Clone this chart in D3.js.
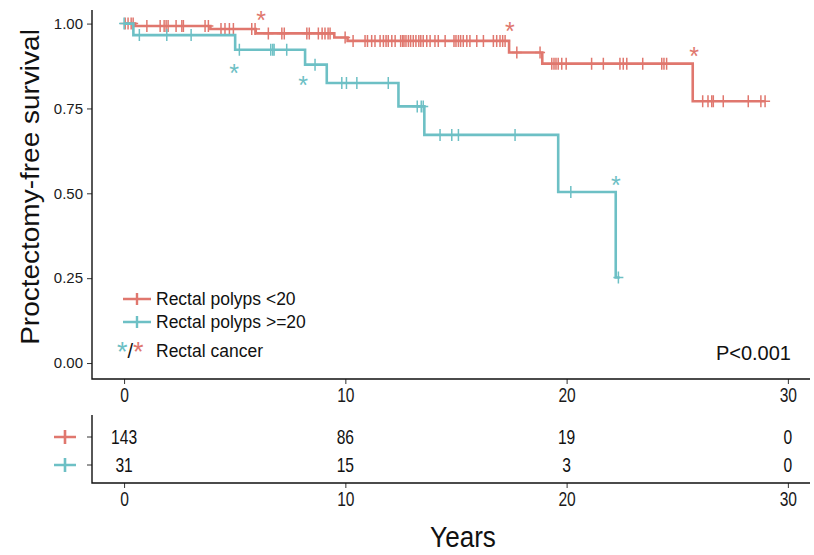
<!DOCTYPE html>
<html>
<head>
<meta charset="utf-8">
<title>Proctectomy-free survival</title>
<script src="https://d3js.org/d3.v7.min.js"></script>
<style>
  body { margin: 0; background: #fff; }
  text { font-family: "Liberation Sans", Arial, sans-serif; }
</style>
</head>
<body>
<script>
// step curves: time (years) and survival after the step
var redStepT  = [0, 0.5, 3.9, 5.95, 9.5, 10.1, 17.4, 18.9, 25.7];
var redStepS  = [1, 0.993, 0.984, 0.971, 0.959, 0.949, 0.915, 0.882, 0.771];
var redEnd = 28.97;
var tealStepT = [0, 0.42, 5.02, 8.18, 9.16, 12.4, 13.57, 19.62, 22.22];
var tealStepS = [1, 0.966, 0.923, 0.879, 0.825, 0.756, 0.672, 0.504, 0.252];
var tealEnd = 22.4;

// censored times
var redCens = [0.05, 0.18, 0.32, 0.41, 1.03, 1.63, 1.81, 1.9, 1.99, 2.35, 2.61, 2.68, 3.66, 3.81,
  4.38, 4.56, 4.76, 4.94, 5.77, 5.92, 6.52, 7.13, 7.24, 8.26, 8.37, 8.78, 8.95, 9.08, 9.22, 9.31,
  9.99, 10.35, 10.89, 11.0, 11.19, 11.34, 11.57, 11.72, 11.84, 11.94, 12.1, 12.25, 12.5, 12.59,
  12.65, 12.74, 12.85, 12.95, 13.07, 13.19, 13.32, 13.41, 13.52, 13.68, 13.83, 14.05, 14.2, 14.51,
  14.91, 15.0, 15.11, 15.21, 15.33, 15.49, 15.63, 15.94, 16.24, 16.69, 16.84, 16.99, 17.11, 17.22,
  17.75, 18.8, 19.33, 19.43, 19.52, 19.62, 19.78, 19.98, 21.13, 21.66, 22.41, 22.56, 22.72, 23.44,
  24.3, 24.4, 24.52, 26.15, 26.39, 26.56, 26.63, 27.08, 28.21, 28.78, 28.97];
var tealCens = [0, 0.69, 1.93, 3.03, 5.21, 6.63, 6.72, 6.78, 7.35, 8.63, 9.84, 10.05, 10.52, 11.94,
  13.25, 13.43, 13.52, 14.28, 14.81, 15.11, 17.67, 20.19, 22.34];

// rectal cancer marks (time, label height)
var redCancerT = [6.19, 17.44, 25.76];
var redCancerY = [1.024, 0.994, 0.92];
var tealCancerT = [4.97, 8.09, 22.23];
var tealCancerY = [0.870, 0.835, 0.539];

var groups = ["Rectal polyps <20", "Rectal polyps >=20"];
var riskTimes = [0, 10, 20, 30];
var riskRed = [143, 86, 19, 0];
var riskTeal = [31, 15, 3, 0];
var xTicks = [0, 10, 20, 30];
var yTicks = [0, 0.25, 0.5, 0.75, 1];

var red = "#E0776E", teal = "#6DC0C5";

var W = 814, H = 555;
var svg = d3.select("body").append("svg").attr("width", W).attr("height", H);

var x = d3.scaleLinear().domain([-1.45, 31]).range([92, 810]);
var y = d3.scaleLinear().domain([-0.047, 1.04]).range([379, 10]);

// axes of main panel
var yAxis = svg.append("g").attr("transform", "translate(92,0)")
  .call(d3.axisLeft(y).tickValues(yTicks).tickFormat(d3.format(".2f")).tickSize(5).tickPadding(4));
yAxis.attr("font-size", 15).attr("font-family", "Liberation Sans");
yAxis.select(".domain").remove();
yAxis.selectAll("text").attr("fill", "#1a1a1a");
yAxis.selectAll("line").attr("stroke", "#333");

function bottomAxis(ty) {
  var g = svg.append("g").attr("transform", "translate(0," + ty + ")")
    .call(d3.axisBottom(x).tickValues(xTicks).tickFormat(d3.format("d")).tickSize(5).tickPadding(4));
  g.attr("font-size", 20).attr("font-family", "Liberation Sans");
  g.select(".domain").remove();
  g.selectAll("text").attr("fill", "#1a1a1a").attr("transform", "scale(0.78,1)");
  g.selectAll("line").attr("stroke", "#333");
}
bottomAxis(379);

svg.append("path").attr("d", "M92,10V379H810").attr("fill", "none").attr("stroke", "#111").attr("stroke-width", 1.4);

svg.append("text").attr("transform", "translate(39,187) rotate(-90) scale(1.12,1)").attr("text-anchor", "middle")
  .attr("font-size", 25).attr("fill", "#111").text("Proctectomy-free survival");

function stepAt(ts, ss, t) {
  var s = ss[0];
  for (var i = 0; i < ts.length; i++) if (ts[i] <= t) s = ss[i];
  return s;
}

var line = d3.line().x(function(d) { return x(d[0]); }).y(function(d) { return y(d[1]); })
  .curve(d3.curveStepAfter);

function drawGroup(ts, ss, end, cens, cT, cY, col) {
  var pts = ts.map(function(t, i) { return [t, ss[i]]; });
  pts.push([end, ss[ss.length - 1]]);
  svg.append("path").attr("d", line(pts)).attr("fill", "none").attr("stroke", col).attr("stroke-width", 2.6);
  svg.append("g").selectAll("path").data(cens).enter().append("path")
    .attr("d", function(t) {
      var cx = x(t), cy = y(stepAt(ts, ss, t));
      return "M" + cx + "," + (cy - 6) + "V" + (cy + 6) + "M" + (cx - 5) + "," + cy + "H" + (cx + 5);
    })
    .attr("stroke", col).attr("stroke-width", 1.5);
  svg.append("g").selectAll("text").data(cT).enter().append("text")
    .attr("x", function(t) { return x(t); })
    .attr("y", function(t, i) { return y(cY[i]) + 14; })
    .attr("text-anchor", "middle").attr("font-size", 25).attr("fill", col).text("*");
}

drawGroup(redStepT, redStepS, redEnd, redCens, redCancerT, redCancerY, red);
drawGroup(tealStepT, tealStepS, tealEnd, tealCens, tealCancerT, tealCancerY, teal);

// legend
var legCols = [red, teal];
var leg = svg.append("g");
groups.forEach(function(g, i) {
  var ly = 299 + i * 23;
  leg.append("path").attr("d", "M123," + ly + "H151M137," + (ly - 6) + "V" + (ly + 6))
    .attr("stroke", legCols[i]).attr("stroke-width", 2.4);
  leg.append("text").attr("x", 156).attr("y", ly + 6).attr("font-size", 17.5).attr("fill", "#111").text(g);
});
var cl = leg.append("text").attr("x", 117).attr("y", 361).attr("font-size", 27);
cl.append("tspan").attr("fill", teal).text("*");
cl.append("tspan").attr("fill", "#111").attr("font-size", 20).attr("dy", -3).text("/");
cl.append("tspan").attr("fill", red).attr("dy", 3).text("*");
leg.append("text").attr("x", 156).attr("y", 357).attr("font-size", 17.5).attr("fill", "#111").text("Rectal cancer");

svg.append("text").attr("x", 791).attr("y", 360).attr("text-anchor", "end").attr("font-size", 20)
  .attr("fill", "#111").text("P<0.001");

// risk table
var ry = d3.scaleBand().domain(groups).range([423, 479]);
bottomAxis(483);
var rl = svg.append("g").attr("transform", "translate(92,0)")
  .call(d3.axisLeft(ry).tickSize(5).tickFormat(""));
rl.select(".domain").remove();
rl.selectAll("line").attr("stroke", "#333");
svg.append("path").attr("d", "M92,415V483H810").attr("fill", "none").attr("stroke", "#111").attr("stroke-width", 1.4);

[riskRed, riskTeal].forEach(function(vals, i) {
  var cy = ry(groups[i]) + ry.bandwidth() / 2;
  svg.append("path").attr("d", "M54," + cy + "H76M65," + (cy - 7) + "V" + (cy + 7))
    .attr("stroke", legCols[i]).attr("stroke-width", 2.6);
  svg.append("g").selectAll("text").data(vals).enter().append("text")
    .attr("transform", function(v, j) { return "translate(" + x(riskTimes[j]) + "," + (cy + 7) + ") scale(0.78,1)"; })
    .attr("text-anchor", "middle").attr("font-size", 20).attr("fill", "#111")
    .text(function(v) { return v; });
});

svg.append("text").attr("transform", "translate(463,547) scale(0.9,1)").attr("text-anchor", "middle")
  .attr("font-size", 29).attr("fill", "#111").text("Years");
</script>
</body>
</html>
